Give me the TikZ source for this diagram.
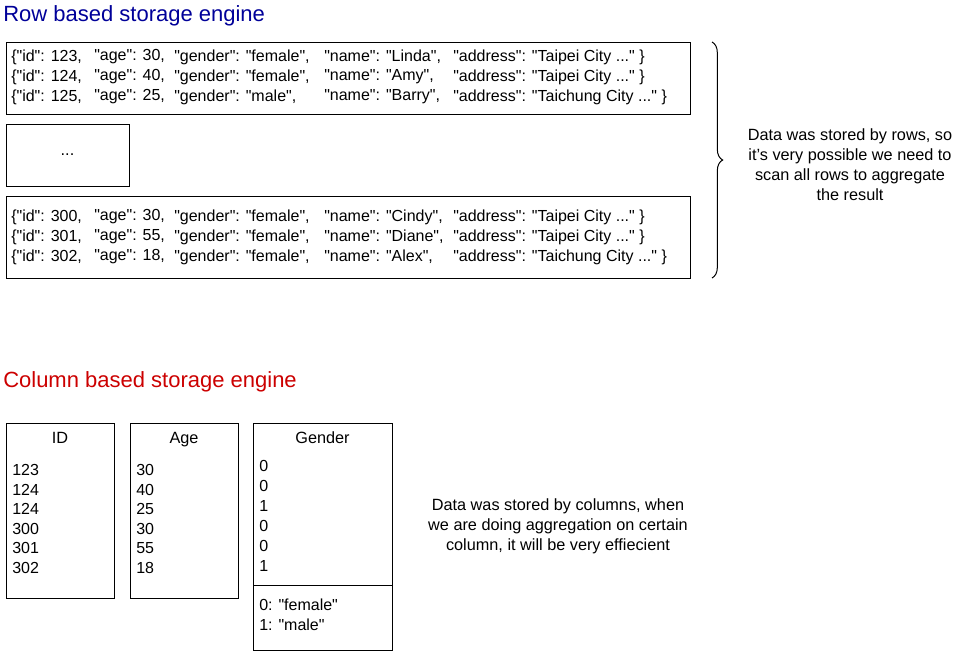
\documentclass[tikz,border=0pt]{standalone}
\usepackage{fontspec}
\setmainfont{Liberation Sans}
\usetikzlibrary{decorations.pathreplacing}
\definecolor{rowblue}{RGB}{0,0,153}
\definecolor{colred}{RGB}{204,0,0}
\newcommand{\qt}{\textquotedbl}
\tikzset{
  box/.style={draw, line width=0.75pt},
  txt/.style={anchor=west, inner sep=0pt, font=\fontsize{12}{13}\selectfont},
  ctxt/.style={inner sep=0pt, font=\fontsize{12.2}{15}\selectfont, align=center},
  title/.style={anchor=west, inner sep=0pt, font=\fontsize{16.5}{18}\selectfont}
}
\begin{document}
\begin{tikzpicture}[x=0.75pt,y=0.75pt,yscale=-1,xscale=1]
\useasboundingbox (0,0) rectangle (960,651);

% Row titles
\node [title, text=rowblue] (rowtitle) at (3,16) {Row based storage engine};
\node [title, text=colred] (coltitle) at (3,382) {Column based storage engine};

% Row boxes
\draw [box] (6,42) rectangle (690,114);
\draw [box] (6,124) rectangle (129,186);
\draw [box] (6,196) rectangle (690,278);
\node [ctxt] (dots) at (67.5,155) {...};

% Row records
\foreach \y/\id/\age/\gen/\nm/\addr in {
  57/123/30/female/Linda/Taipei, 77/124/40/female/Amy/Taipei, 97/125/25/male/Barry/Taichung,
  217/300/30/female/Cindy/Taipei, 237/301/55/female/Diane/Taipei, 257/302/18/female/Alex/Taichung}{
  \node [txt] (id\id) at (11,\y) {\{\qt id\qt: \id,};
  \node [txt] (age\id) at (94,\y) {\qt age\qt: \age,};
  \node [txt] (gen\id) at (174,\y) {\qt gender\qt: \qt\gen\qt,};
  \node [txt] (nm\id) at (324,\y) {\qt name\qt: \qt\nm\qt,};
  \node [txt] (addr\id) at (453,\y) {\qt address\qt: \qt\addr\ City ...\qt\ \}};
}

% Brace and note
\draw [line width=0.75pt, decorate, decoration={brace, amplitude=8pt}] (712,42) -- (712,278);
\node [ctxt] (rownote) at (850,165) {Data was stored by rows, so\\it's very possible we need to\\scan all rows to aggregate\\the result};

% Column boxes
\draw [box] (6,423) rectangle (114,598);
\draw [box] (130,423) rectangle (238,598);
\draw [box] (253,423) rectangle (392,650);
\draw [box] (253,585) -- (392,585);
\node [ctxt, anchor=base] (idhead) at (60,443) {ID};
\node [ctxt, anchor=base] (agehead) at (184,443) {Age};
\node [ctxt, anchor=base] (genhead) at (322.5,443) {Gender};
\foreach \i/\a/\b in {0/123/30, 1/124/40, 2/124/25, 3/300/30, 4/301/55, 5/302/18}{
  \node [txt] (idval\i) at (12,470+19.6*\i) {\a};
  \node [txt] (ageval\i) at (136,470+19.6*\i) {\b};
}
\foreach \i/\g in {0/0, 1/0, 2/1, 3/0, 4/0, 5/1}{
  \node [txt] (genval\i) at (259,466+20*\i) {\g};
}
\node [txt] (dict0) at (259,605) {0: \qt female\qt};
\node [txt] (dict1) at (259,625) {1: \qt male\qt};
\node [ctxt] (colnote) at (558,526) {Data was stored by columns, when\\we are doing aggregation on certain\\column, it will be very effiecient};
\end{tikzpicture}
\end{document}
